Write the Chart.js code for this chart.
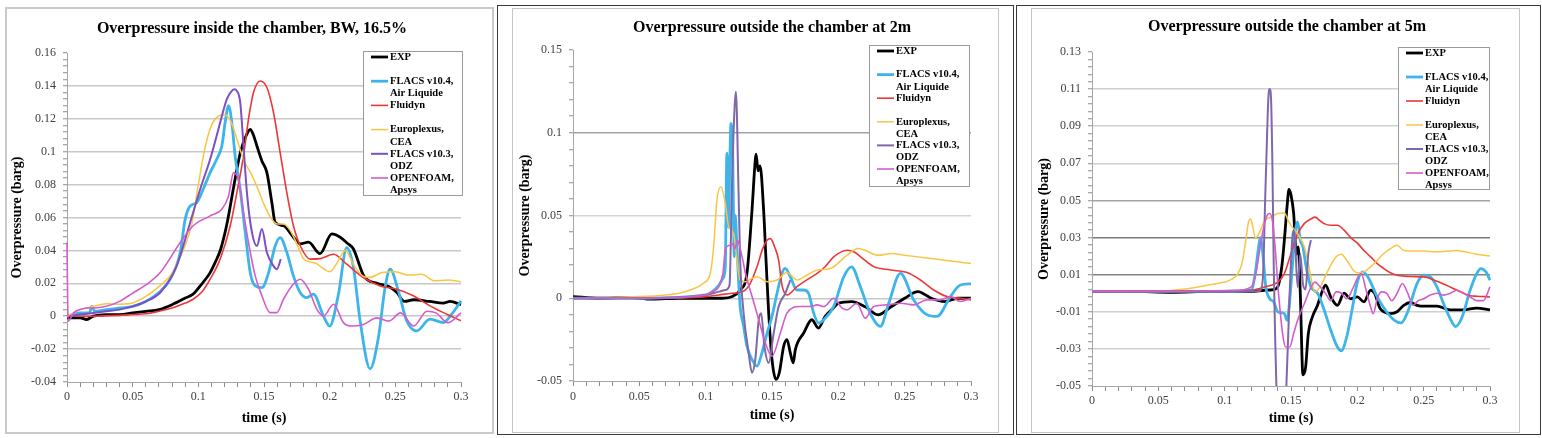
<!DOCTYPE html>
<html>
<head>
<meta charset="utf-8">
<script src="https://cdn.jsdelivr.net/npm/chart.js@4.4.1/dist/chart.umd.min.js"></script>
<style>
    body { margin: 0; background: #ffffff; width: 1542px; height: 438px; overflow: hidden; }
    .marco { position: absolute; box-sizing: border-box; }
    canvas { position: absolute; }
</style>
</head>
<body>

<div class="marco" style="left:5px; top:7px; width:489px; height:427px; border:2px solid #c9c9c9;"></div>
<div class="marco" style="left:497px; top:5px; width:517px; height:430px; border:1px solid #3a3a3a;"></div>
<div class="marco" style="left:512px; top:8px; width:487px; height:425px; border:1px solid #c4c4c4;"></div>
<div class="marco" style="left:1016px; top:5px; width:525px; height:430px; border:1px solid #3a3a3a;"></div>
<div class="marco" style="left:1031px; top:8px; width:489px; height:425px; border:1px solid #c4c4c4;"></div>

<canvas id="insideChart" width="484" height="423" style="left:7px; top:9px;"></canvas>
<canvas id="twoMeterChart" width="486" height="422" style="left:514px; top:9px;"></canvas>
<canvas id="fiveMeterChart" width="475" height="422" style="left:1033px; top:9px;"></canvas>

<script>

// series, in the order of the legend
const seriesNames = ["EXP", "FLACS v10.4, Air Liquide", "Fluidyn", "Europlexus, CEA", "FLACS v10.3, ODZ", "OPENFOAM, Apsys"];

const legendLines = [
    ["EXP", ""],
    ["FLACS v10.4,", "Air Liquide"],
    ["Fluidyn", ""],
    ["Europlexus,", "CEA"],
    ["FLACS v10.3,", "ODZ"],
    ["OPENFOAM,", "Apsys"]
];

const seriesColors = ["#000000", "#3db4ea", "#ee3636", "#f9c544", "#7d4fc4", "#d45ccb"];
const seriesWidths = [2.8, 2.8, 1.6, 1.5, 2, 1.6];

const xTickLabels = ["0", "0.05", "0.1", "0.15", "0.2", "0.25", "0.3"];

const insideYLabels = ["0.16", "0.14", "0.12", "0.1", "0.08", "0.06", "0.04", "0.02", "0", "-0.02", "-0.04"];
const twoMeterYLabels = ["0.15", "0.1", "0.05", "0", "-0.05"];
const fiveMeterYLabels = ["0.13", "0.11", "0.09", "0.07", "0.05", "0.03", "0.01", "-0.01", "-0.03", "-0.05"];


// overpressure inside the chamber (time s, overpressure barg)
const insideTimeExp = [0, 0.01, 0.015, 0.02, 0.03, 0.04, 0.05, 0.06, 0.07, 0.08, 0.09, 0.096, 0.1, 0.105, 0.109, 0.113, 0.117, 0.122, 0.127, 0.132, 0.136, 0.1395, 0.142, 0.1446, 0.1484, 0.1522, 0.156, 0.1585, 0.1648, 0.1724, 0.1775, 0.1839, 0.1927, 0.2016, 0.208, 0.214, 0.218, 0.226, 0.236, 0.245, 0.251, 0.257, 0.264, 0.276, 0.2865, 0.2917, 0.3];
const insideExp = [-0.001, -0.001, -0.002, 0, 0.001, 0.001, 0.002, 0.003, 0.004, 0.007, 0.011, 0.0134, 0.017, 0.022, 0.0265, 0.033, 0.0407, 0.057, 0.079, 0.0995, 0.109, 0.1135, 0.11, 0.1035, 0.0944, 0.0873, 0.069, 0.057, 0.055, 0.048, 0.044, 0.045, 0.038, 0.05, 0.048, 0.044, 0.041, 0.0245, 0.02, 0.018, 0.0145, 0.009, 0.01, 0.009, 0.008, 0.009, 0.007];

const insideTimeF104 = [0, 0.01, 0.017, 0.019, 0.021, 0.03, 0.04, 0.05, 0.06, 0.07, 0.0786, 0.0862, 0.09, 0.0938, 0.0987, 0.1037, 0.109, 0.114, 0.1179, 0.1204, 0.123, 0.1255, 0.128, 0.1319, 0.1357, 0.1395, 0.1433, 0.1484, 0.1535, 0.1585, 0.1623, 0.1674, 0.1724, 0.1775, 0.1826, 0.1877, 0.1953, 0.2, 0.2067, 0.213, 0.2181, 0.2232, 0.2308, 0.2371, 0.2422, 0.246, 0.2523, 0.2587, 0.2663, 0.2764, 0.2866, 0.2929, 0.3];
const insideF104 = [0, 0.002, 0.002, 0.006, 0.003, 0.004, 0.005, 0.006, 0.009, 0.0144, 0.0226, 0.0387, 0.059, 0.067, 0.069, 0.0772, 0.0873, 0.0954, 0.1035, 0.1177, 0.128, 0.1177, 0.0975, 0.077, 0.051, 0.0265, 0.0184, 0.0174, 0.0265, 0.0427, 0.0478, 0.0387, 0.0245, 0.0144, 0.0113, 0.0134, 0, -0.006, 0.0134, 0.0417, 0.0296, -0.0029, -0.032, -0.013, 0.0174, 0.0286, 0.0154, -0.0029, -0.0089, -0.0018, -0.0039, 0.0012, 0.0093];

const insideTimeFlu = [0, 0.02, 0.04, 0.05, 0.06, 0.071, 0.08, 0.09, 0.096, 0.103, 0.109, 0.1166, 0.1243, 0.1293, 0.1344, 0.1382, 0.142, 0.1471, 0.1522, 0.1572, 0.1623, 0.1674, 0.1724, 0.1775, 0.1851, 0.1927, 0.203, 0.213, 0.2257, 0.2384, 0.2511, 0.2637, 0.2764, 0.2891, 0.3];
const insideFlu = [0, 0, 0.0005, 0.001, 0.0015, 0.0032, 0.005, 0.008, 0.0103, 0.015, 0.0225, 0.0347, 0.055, 0.075, 0.0975, 0.1198, 0.136, 0.143, 0.139, 0.124, 0.0995, 0.075, 0.055, 0.043, 0.0347, 0.035, 0.0377, 0.0316, 0.0235, 0.0184, 0.0164, 0.0124, 0.0063, 0.0012, -0.0028];

const insideTimeEur = [0, 0.005, 0.01, 0.02, 0.03, 0.04, 0.05, 0.06, 0.07, 0.08, 0.085, 0.09, 0.095, 0.1, 0.105, 0.11, 0.115, 0.12, 0.125, 0.13, 0.135, 0.14, 0.145, 0.15, 0.155, 0.16, 0.165, 0.17, 0.175, 0.18, 0.185, 0.19, 0.195, 0.2, 0.205, 0.212, 0.218, 0.225, 0.23, 0.24, 0.25, 0.26, 0.27, 0.28, 0.29, 0.3];
const insideEur = [0, 0.002, 0.004, 0.006, 0.0075, 0.0073, 0.008, 0.012, 0.018, 0.026, 0.034, 0.043, 0.056, 0.08, 0.102, 0.116, 0.1215, 0.1225, 0.118, 0.106, 0.094, 0.087, 0.078, 0.068, 0.06, 0.056, 0.056, 0.052, 0.044, 0.035, 0.033, 0.032, 0.029, 0.027, 0.0316, 0.04, 0.0316, 0.0245, 0.0235, 0.0265, 0.027, 0.025, 0.0255, 0.0215, 0.022, 0.021];

const insideTimeF103 = [0.002, 0.01, 0.02, 0.03, 0.04, 0.05, 0.06, 0.071, 0.0835, 0.0938, 0.1014, 0.109, 0.1153, 0.1217, 0.1255, 0.1275, 0.1293, 0.1319, 0.1344, 0.137, 0.1408, 0.1446, 0.1484, 0.1522, 0.1572, 0.1598, 0.1628];
const insideF103 = [0, 0.001, 0.002, 0.003, 0.004, 0.006, 0.009, 0.0144, 0.0306, 0.057, 0.0772, 0.0954, 0.1137, 0.132, 0.137, 0.138, 0.137, 0.13, 0.1035, 0.075, 0.051, 0.0427, 0.053, 0.0387, 0.0306, 0.0286, 0.0347];

const insideTimeFoam = [0, 0.0008, 0.005, 0.01, 0.015, 0.02, 0.03, 0.04, 0.05, 0.06, 0.071, 0.0862, 0.0961, 0.109, 0.1179, 0.123, 0.1268, 0.1306, 0.1344, 0.1382, 0.1433, 0.1484, 0.1547, 0.1598, 0.1648, 0.1712, 0.1775, 0.1839, 0.1902, 0.1953, 0.203, 0.2105, 0.2168, 0.2257, 0.236, 0.245, 0.254, 0.264, 0.274, 0.281, 0.29, 0.3];
const insideFoam = [0.045, -0.003, 0.002, 0.004, 0.005, 0.005, 0.006, 0.009, 0.014, 0.019, 0.0265, 0.0448, 0.055, 0.061, 0.065, 0.073, 0.0873, 0.083, 0.063, 0.0448, 0.0245, 0.0124, 0.0022, 0.0022, 0.0103, 0.0184, 0.0225, 0.0164, 0.0043, 0, 0.0073, -0.0039, -0.006, -0.005, -0.001, -0.003, 0.002, -0.006, 0.003, 0.002, -0.004, 0.002];


// overpressure outside the chamber at 2m
const twoTimeExp = [0, 0.02, 0.04, 0.06, 0.08, 0.1, 0.113, 0.12, 0.126, 0.1311, 0.1349, 0.1374, 0.138, 0.1395, 0.141, 0.1437, 0.1455, 0.1475, 0.15, 0.153, 0.1555, 0.1588, 0.1613, 0.1638, 0.166, 0.1676, 0.1739, 0.18, 0.185, 0.19, 0.195, 0.2, 0.21, 0.22, 0.23, 0.24, 0.25, 0.26, 0.27, 0.28, 0.29, 0.3];
const twoExp = [0.001, 0, 0.0005, -0.0005, 0, 0, 0, 0.001, 0.005, 0.015, 0.053, 0.0836, 0.087, 0.077, 0.08, 0.053, 0.023, -0.009, -0.037, -0.049, -0.045, -0.029, -0.025, -0.033, -0.039, -0.031, -0.021, -0.013, -0.018, -0.011, -0.007, -0.003, -0.002, -0.005, -0.01, -0.005, 0, 0.004, 0, -0.002, 0, 0];

const twoTimeF104 = [0, 0.05, 0.1, 0.105, 0.11, 0.113, 0.1148, 0.116, 0.1173, 0.1181, 0.1191, 0.1203, 0.1216, 0.1223, 0.1236, 0.1248, 0.126, 0.1286, 0.1311, 0.1349, 0.1387, 0.1424, 0.1463, 0.15, 0.1538, 0.1575, 0.16, 0.1638, 0.1688, 0.1739, 0.1776, 0.1814, 0.1852, 0.189, 0.1965, 0.2041, 0.21, 0.2166, 0.224, 0.2317, 0.238, 0.2468, 0.2568, 0.2669, 0.2744, 0.2845, 0.292, 0.3];
const twoF104 = [0, 0, 0.002, 0.004, 0.008, 0.012, 0.019, 0.0876, 0.043, 0.0775, 0.1057, 0.09, 0.025, 0.05, 0.03, 0.011, -0.005, -0.017, -0.029, -0.037, -0.041, -0.033, -0.021, -0.011, 0.003, 0.015, 0.018, 0.013, 0.005, 0.005, 0.003, -0.009, -0.015, -0.013, -0.005, 0.013, 0.019, 0.007, -0.009, -0.017, -0.003, 0.015, -0.001, -0.01, -0.011, 0.001, 0.008, 0.0087];

const twoTimeFlu = [0, 0.05, 0.1, 0.11, 0.12, 0.128, 0.1336, 0.1387, 0.143, 0.1463, 0.1488, 0.152, 0.155, 0.1575, 0.1613, 0.1688, 0.176, 0.184, 0.19, 0.1965, 0.2066, 0.212, 0.2166, 0.2267, 0.2393, 0.2518, 0.2619, 0.2719, 0.282, 0.292, 0.3];
const twoFlu = [0, 0, 0.001, 0.002, 0.003, 0.004, 0.009, 0.019, 0.03, 0.035, 0.036, 0.031, 0.023, 0.008, 0.002, 0.007, 0.011, 0.015, 0.019, 0.025, 0.029, 0.028, 0.0252, 0.0191, 0.0171, 0.0155, 0.011, 0.005, 0.001, 0, -0.001];

const twoTimeEur = [0, 0.05, 0.07, 0.08, 0.0884, 0.0985, 0.1035, 0.106, 0.1085, 0.1115, 0.1148, 0.1173, 0.1211, 0.1236, 0.126, 0.13, 0.1336, 0.1387, 0.1463, 0.1538, 0.1613, 0.1688, 0.1764, 0.184, 0.194, 0.2066, 0.215, 0.22, 0.23, 0.24, 0.25, 0.26, 0.27, 0.28, 0.29, 0.3];
const twoEur = [0, 0.001, 0.002, 0.003, 0.005, 0.0092, 0.0151, 0.031, 0.0594, 0.0674, 0.0574, 0.0433, 0.039, 0.023, 0.011, 0.01, 0.0115, 0.013, 0.01, 0.011, 0.0155, 0.011, 0.014, 0.017, 0.018, 0.026, 0.03, 0.029, 0.026, 0.027, 0.026, 0.025, 0.024, 0.023, 0.022, 0.021];

const twoTimeF103 = [0, 0.05, 0.1, 0.11, 0.115, 0.118, 0.1198, 0.121, 0.1228, 0.1248, 0.126, 0.1286, 0.1324, 0.1349, 0.1374, 0.14, 0.1418, 0.1443, 0.1475, 0.1513, 0.155, 0.16, 0.1638];
const twoF103 = [0, 0, 0.002, 0.004, 0.005, 0.008, 0.067, 0.1, 0.1248, 0.0634, 0.023, -0.009, -0.033, -0.045, -0.037, -0.013, -0.009, -0.029, -0.039, -0.021, -0.005, 0.003, 0.011];

const twoTimeFoam = [0, 0.05, 0.1, 0.105, 0.11, 0.113, 0.115, 0.118, 0.12, 0.122, 0.124, 0.126, 0.128, 0.13, 0.135, 0.14, 0.145, 0.15, 0.1563, 0.1613, 0.1713, 0.1789, 0.184, 0.189, 0.1965, 0.2028, 0.2065, 0.214, 0.2203, 0.2267, 0.2368, 0.2468, 0.2568, 0.2669, 0.2769, 0.2845, 0.292, 0.3];
const twoFoam = [0, 0, 0.002, 0.004, 0.007, 0.015, 0.03, 0.032, 0.033, 0.03, 0.035, 0.03, 0.023, 0.015, 0.001, -0.013, -0.027, -0.035, -0.021, -0.009, -0.005, -0.005, -0.004, -0.005, 0, -0.006, -0.007, -0.003, -0.012, -0.005, -0.004, -0.003, -0.004, -0.001, -0.001, 0.001, -0.002, 0];


// overpressure outside the chamber at 5m
const fiveTimeExp = [0, 0.03, 0.06, 0.09, 0.12, 0.13, 0.137, 0.14, 0.143, 0.145, 0.147, 0.1485, 0.15, 0.152, 0.154, 0.1555, 0.157, 0.159, 0.161, 0.163, 0.166, 0.17, 0.173, 0.176, 0.18, 0.185, 0.19, 0.195, 0.2, 0.205, 0.21, 0.213, 0.217, 0.22, 0.225, 0.23, 0.235, 0.24, 0.245, 0.25, 0.26, 0.27, 0.28, 0.29, 0.3];
const fiveExp = [0.001, 0.001, 0.0005, 0.001, 0.001, 0.0016, 0.002, 0.0034, 0.014, 0.0286, 0.0465, 0.056, 0.053, 0.043, 0.021, 0.025, 0, -0.044, -0.04, -0.022, -0.013, -0.0065, 0, 0.0043, -0.002, -0.0065, 0, -0.003, -0.002, -0.0047, 0.0016, 0, -0.008, -0.01, -0.011, -0.01, -0.0065, -0.005, -0.0065, -0.007, -0.007, -0.009, -0.009, -0.008, -0.009];

const fiveTimeF104 = [0, 0.05, 0.1, 0.12, 0.123, 0.126, 0.127, 0.129, 0.131, 0.134, 0.137, 0.14, 0.145, 0.147, 0.149, 0.151, 0.153, 0.155, 0.157, 0.159, 0.161, 0.165, 0.17, 0.175, 0.18, 0.185, 0.188, 0.192, 0.196, 0.2, 0.204, 0.208, 0.215, 0.222, 0.228, 0.233, 0.238, 0.245, 0.25, 0.255, 0.26, 0.265, 0.27, 0.274, 0.279, 0.285, 0.29, 0.293, 0.297, 0.3];
const fiveF104 = [0.001, 0.001, 0.001, 0.0016, 0.0106, 0.027, 0.03, 0.0196, 0.0034, -0.003, -0.0047, -0.01, -0.011, -0.0146, -0.004, 0.014, 0.032, 0.0384, 0.0286, 0.025, 0.016, 0.0034, 0, -0.009, -0.02, -0.029, -0.031, -0.0235, -0.009, 0.006, 0.0115, 0.0088, -0.002, -0.01, -0.0146, -0.016, -0.01, 0.0052, 0.0097, 0.0088, 0.0034, -0.0056, -0.0137, -0.018, -0.0128, 0.0016, 0.0106, 0.0133, 0.0115, 0.007];

const fiveTimeFlu = [0, 0.05, 0.1, 0.12, 0.13, 0.14, 0.145, 0.15, 0.155, 0.16, 0.165, 0.168, 0.172, 0.175, 0.18, 0.185, 0.19, 0.195, 0.2, 0.205, 0.21, 0.215, 0.22, 0.225, 0.23, 0.24, 0.25, 0.26, 0.27, 0.28, 0.285, 0.29, 0.3];
const fiveFlu = [0.001, 0.001, 0.001, 0.0016, 0.0034, 0.006, 0.0106, 0.0214, 0.032, 0.0375, 0.04, 0.041, 0.039, 0.0375, 0.0366, 0.0366, 0.034, 0.03, 0.027, 0.023, 0.0196, 0.016, 0.0133, 0.011, 0.0097, 0.009, 0.0088, 0.0065, 0.0034, 0, -0.0014, -0.0016, -0.002];

const fiveTimeEur = [0, 0.05, 0.06, 0.07, 0.08, 0.09, 0.1, 0.105, 0.11, 0.113, 0.116, 0.118, 0.1195, 0.121, 0.123, 0.125, 0.128, 0.13, 0.135, 0.14, 0.145, 0.148, 0.15, 0.155, 0.16, 0.163, 0.166, 0.168, 0.172, 0.178, 0.184, 0.188, 0.192, 0.197, 0.2, 0.205, 0.21, 0.215, 0.22, 0.225, 0.23, 0.235, 0.24, 0.25, 0.26, 0.27, 0.275, 0.28, 0.29, 0.3];
const fiveEur = [0.001, 0.001, 0.0016, 0.0023, 0.0034, 0.0047, 0.006, 0.0074, 0.0106, 0.016, 0.0286, 0.0384, 0.04, 0.0366, 0.03, 0.031, 0.0357, 0.039, 0.041, 0.043, 0.0433, 0.039, 0.0366, 0.032, 0.025, 0.016, 0.0052, 0.0007, 0.0034, 0.0124, 0.0196, 0.021, 0.0178, 0.0124, 0.011, 0.0115, 0.0142, 0.0178, 0.0214, 0.024, 0.0259, 0.023, 0.0228, 0.0228, 0.0223, 0.0228, 0.023, 0.0225, 0.021, 0.02];

const fiveTimeF103 = [0, 0.05, 0.1, 0.125, 0.127, 0.129, 0.1305, 0.132, 0.133, 0.134, 0.135, 0.136, 0.137, 0.138, 0.139, 0.143, 0.1465, 0.149, 0.151, 0.152, 0.153, 0.155, 0.157, 0.159, 0.161, 0.163, 0.165];
const fiveF103 = [0.001, 0.001, 0.001, 0.001, 0.0016, 0.0106, 0.05, 0.086, 0.106, 0.11, 0.104, 0.068, 0.014, -0.022, -0.05, -0.085, -0.05, 0, 0.03, 0.034, 0.0286, 0.0034, 0.021, 0.005, 0.002, 0.021, 0.0286];

const fiveTimeFoam = [0, 0.05, 0.11, 0.12, 0.123, 0.126, 0.129, 0.132, 0.134, 0.136, 0.138, 0.14, 0.142, 0.144, 0.146, 0.149, 0.152, 0.155, 0.158, 0.161, 0.164, 0.168, 0.172, 0.176, 0.18, 0.184, 0.188, 0.192, 0.196, 0.2, 0.203, 0.206, 0.21, 0.212, 0.215, 0.218, 0.222, 0.226, 0.23, 0.234, 0.238, 0.242, 0.246, 0.25, 0.255, 0.26, 0.265, 0.27, 0.275, 0.28, 0.285, 0.29, 0.295, 0.3];
const fiveFoam = [0.001, 0.001, 0.0016, 0.0034, 0.0088, 0.0214, 0.034, 0.042, 0.043, 0.039, 0.025, 0.0052, -0.011, -0.0235, -0.029, -0.029, -0.0217, -0.0146, -0.009, -0.004, 0.0016, 0.006, 0.0034, 0, -0.004, 0.0007, 0, -0.003, 0.0016, 0.008, 0.0106, 0.0034, -0.0074, -0.011, -0.003, 0.0007, 0, -0.004, 0, 0.0052, 0, -0.0065, -0.004, -0.003, -0.001, 0, -0.001, 0, 0.0016, 0, -0.002, -0.004, -0.004, 0.0034];


// gridline colours (only the labelled ticks get a line)
const insideGridColors = {
    "0.14": "#c8c8c8", "0.12": "#c8c8c8", "0.1": "#c8c8c8", "0.08": "#c8c8c8", "0.06": "#c8c8c8",
    "0.04": "#c8c8c8", "0.02": "#c8c8c8", "0": "#c8c8c8", "-0.02": "#c8c8c8"
};
const twoMeterGridColors = { "0.1": "#a2a2a2", "0.05": "#d4d4d4", "0": "#c8c8c8" };
const fiveMeterGridColors = {
    "0.11": "#d0d0d0", "0.09": "#d0d0d0", "0.07": "#d0d0d0", "0.05": "#a4a4a4",
    "0.03": "#7c7c7c", "0.01": "#828282", "-0.01": "#d0d0d0", "-0.03": "#d0d0d0"
};

const serif = '"Liberation Serif", "Times New Roman", serif';


function formatTick(value) {
    return String(Number(value.toFixed(4)));
}


// legend in a white box inside the plot area, drawn like the spreadsheet one
const boxLegend = {

    id: "boxLegend",

    afterLayout(chart, args, opts) {
        // the spreadsheet title is not centred on the plot area
        if (opts.titleShift) {
            chart.titleBlock.left += opts.titleShift;
            chart.titleBlock.right += opts.titleShift;
        }
    },

    afterDraw(chart, args, opts) {

        const ctx = chart.ctx;
        const area = chart.chartArea;

        const x = Math.round(area.right + opts.dx);
        const y = Math.round(area.top + opts.dy);

        ctx.save();

        ctx.fillStyle = "#ffffff";
        ctx.fillRect(x, y, opts.w, opts.h);

        ctx.strokeStyle = "#9a9a9a";
        ctx.lineWidth = 1;
        ctx.strokeRect(x + 0.5, y + 0.5, opts.w, opts.h);

        ctx.font = "bold 10.5px " + serif;
        ctx.textBaseline = "middle";
        ctx.textAlign = "left";

        chart.data.datasets.forEach((ds, i) => {

            const ly = y + opts.first + i * opts.step;

            ctx.strokeStyle = ds.borderColor;
            ctx.lineWidth = ds.borderWidth;
            ctx.beginPath();
            ctx.moveTo(x + 8, ly);
            ctx.lineTo(x + 25, ly);
            ctx.stroke();

            ctx.fillStyle = "#000000";
            legendLines[i].forEach((txt, k) => {
                ctx.fillText(txt, x + 27, ly + k * 12.3);
            });
        });

        ctx.restore();
    }
};


function makeDatasets(times, values, purple) {

    return seriesNames.map((name, i) => ({
        label: name,
        data: times[i].map((t, k) => ({ x: t, y: values[i][k] })),
        borderColor: i === 4 ? purple : seriesColors[i],
        borderWidth: seriesWidths[i],
        pointRadius: 0,
        cubicInterpolationMode: "monotone",
        clip: { left: 2, right: 2, top: 2, bottom: 0 },
        order: 6 - i
    }));
}


function drawPanel(id, setup) {

    const ctx = document.getElementById(id);

    new Chart(ctx, {

        type: "line",

        data: {
            datasets: makeDatasets(setup.times, setup.values, setup.purple)
        },

        options: {

            responsive: false,
            animation: false,
            events: [],

            layout: {
                padding: { left: 0, right: setup.right, top: 0, bottom: 0 }
            },

            plugins: {

                legend: { display: false },
                tooltip: { enabled: false },

                title: {
                    display: true,
                    text: setup.title,
                    fullSize: false,
                    color: "#000000",
                    font: { family: serif, size: 16, weight: "bold" },
                    padding: { top: setup.titleTop, bottom: setup.titleBottom }
                },

                boxLegend: setup.legend
            },

            scales: {

                x: {
                    type: "linear",
                    min: 0,
                    max: 0.3,
                    afterFit: (s) => { s.height = setup.bottom; },
                    border: { color: "#a6a6a6" },
                    grid: {
                        drawOnChartArea: false,
                        tickLength: 5,
                        tickColor: "#8c8c8c"
                    },
                    ticks: {
                        stepSize: 0.01,
                        autoSkip: false,
                        maxRotation: 0,
                        padding: setup.xPad,
                        color: "#404040",
                        font: { family: serif, size: 12 },
                        callback: (v) => xTickLabels.includes(formatTick(v)) ? formatTick(v) : ""
                    },
                    title: {
                        display: true,
                        text: "time (s)",
                        color: "#000000",
                        font: { family: serif, size: 14, weight: "bold" },
                        padding: { top: 0, bottom: setup.xTitlePad }
                    }
                },

                y: {
                    min: setup.yMin,
                    max: setup.yMax,
                    afterFit: (s) => { s.width = setup.left; },
                    border: { color: "#a6a6a6" },
                    grid: {
                        color: (c) => setup.gridColors[formatTick(c.tick.value)] || "rgba(0,0,0,0)",
                        lineWidth: 1.5,
                        tickLength: 4,
                        tickWidth: 1,
                        tickColor: "#8c8c8c"
                    },
                    ticks: {
                        stepSize: setup.yStep,
                        autoSkip: false,
                        padding: 7,
                        color: "#404040",
                        font: { family: serif, size: 12 },
                        callback: (v) => setup.yLabels.includes(formatTick(v)) ? formatTick(v) : ""
                    },
                    title: {
                        display: true,
                        text: "Overpressure (barg)",
                        color: "#000000",
                        font: { family: serif, size: 14, weight: "bold" },
                        padding: { top: setup.yTitlePad, bottom: 0 }
                    }
                }
            }
        },

        plugins: [boxLegend]
    });
}


drawPanel("insideChart", {
    title: "Overpressure inside the chamber, BW, 16.5%",
    times: [insideTimeExp, insideTimeF104, insideTimeFlu, insideTimeEur, insideTimeF103, insideTimeFoam],
    values: [insideExp, insideF104, insideFlu, insideEur, insideF103, insideFoam],
    purple: "#7d4fc4",
    yMin: -0.04, yMax: 0.16, yStep: 0.004,
    yLabels: insideYLabels,
    gridColors: insideGridColors,
    left: 60, right: 30, bottom: 50,
    titleTop: 10.4, titleBottom: 14.4,
    xPad: 3, xTitlePad: 5.6, yTitlePad: 1.6,
    legend: { dx: -98, dy: -2, w: 99, h: 144, first: 6, step: 24.2, titleShift: -12 }
});

drawPanel("twoMeterChart", {
    title: "Overpressure outside the chamber at 2m",
    times: [twoTimeExp, twoTimeF104, twoTimeFlu, twoTimeEur, twoTimeF103, twoTimeFoam],
    values: [twoExp, twoF104, twoFlu, twoEur, twoF103, twoFoam],
    purple: "#7f68a9",
    yMin: -0.05, yMax: 0.15, yStep: 0.01,
    yLabels: twoMeterYLabels,
    gridColors: twoMeterGridColors,
    left: 59, right: 29, bottom: 50,
    titleTop: 9.4, titleBottom: 12.4,
    xPad: 4, xTitlePad: 7.6, yTitlePad: 2.6,
    legend: { dx: -102, dy: -5, w: 100, h: 141, first: 6, step: 23.6, titleShift: 0 }
});

drawPanel("fiveMeterChart", {
    title: "Overpressure outside the chamber at 5m",
    times: [fiveTimeExp, fiveTimeF104, fiveTimeFlu, fiveTimeEur, fiveTimeF103, fiveTimeFoam],
    values: [fiveExp, fiveF104, fiveFlu, fiveEur, fiveF103, fiveFoam],
    purple: "#7f68a9",
    yMin: -0.05, yMax: 0.13, yStep: 0.004,
    yLabels: fiveMeterYLabels,
    gridColors: fiveMeterGridColors,
    left: 59, right: 18, bottom: 45,
    titleTop: 8.4, titleBottom: 15.4,
    xPad: 3, xTitlePad: 4.6, yTitlePad: 2.6,
    legend: { dx: -92, dy: -5, w: 91, h: 142, first: 6, step: 24, titleShift: -4 }
});

</script>
</body>
</html>
